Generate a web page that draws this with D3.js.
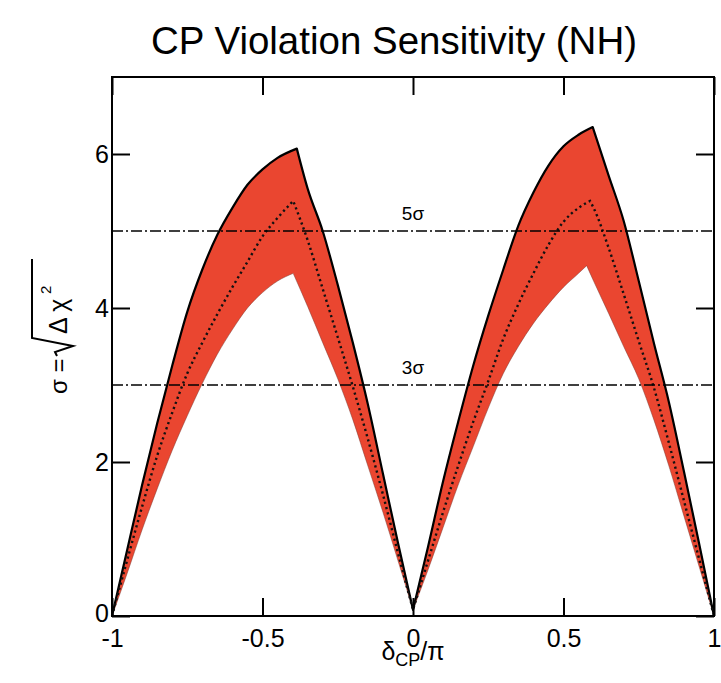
<!DOCTYPE html>
<html>
<head>
<meta charset="utf-8">
<script src="https://cdn.jsdelivr.net/npm/d3@7/dist/d3.min.js"></script>
<style>
  html, body { margin: 0; padding: 0; background: #fff; }
  svg { display: block; }
  text { font-family: "Liberation Sans", Arial, Helvetica, sans-serif; fill: #000; }
</style>
</head>
<body>
<svg id="chart" width="721" height="683"></svg>
<script>
// δCP/π versus sensitivity σ = sqrt(Δχ²): upper edge, central (dotted) and lower edge of the band
const upperBand = [
  [-1, 0], [-0.95, 0.85], [-0.9, 1.7], [-0.85, 2.5], [-0.8, 3.25], [-0.75, 3.95],
  [-0.7, 4.5], [-0.65, 4.95], [-0.6, 5.3], [-0.55, 5.6], [-0.5, 5.8], [-0.45, 5.95],
  [-0.386, 6.07], [-0.35, 5.55], [-0.3, 5.0], [-0.25, 4.3], [-0.2, 3.55], [-0.15, 2.75],
  [-0.1, 1.85], [-0.05, 0.95], [0, 0.08],
  [0.05, 0.9], [0.1, 1.75], [0.15, 2.52], [0.2, 3.25], [0.25, 3.9], [0.3, 4.5],
  [0.35, 5.07], [0.4, 5.5], [0.45, 5.85], [0.5, 6.1], [0.55, 6.25], [0.597, 6.35],
  [0.65, 5.72], [0.7, 5.13], [0.75, 4.35], [0.8, 3.55], [0.85, 2.78], [0.9, 1.88],
  [0.95, 0.95], [1, 0]
];
const centralBand = [
  [-1, 0], [-0.95, 0.72], [-0.9, 1.42], [-0.85, 2.08], [-0.8, 2.64], [-0.75, 3.15],
  [-0.7, 3.55], [-0.65, 3.92], [-0.6, 4.27], [-0.55, 4.6], [-0.5, 4.93], [-0.45, 5.17],
  [-0.398, 5.39], [-0.35, 4.88], [-0.3, 4.25], [-0.25, 3.62], [-0.2, 2.98], [-0.15, 2.3],
  [-0.1, 1.58], [-0.05, 0.82], [0, 0.08],
  [0.05, 0.72], [0.1, 1.35], [0.15, 1.95], [0.2, 2.52], [0.25, 3.05], [0.3, 3.6],
  [0.35, 4.05], [0.4, 4.45], [0.45, 4.82], [0.5, 5.12], [0.55, 5.3], [0.588, 5.39],
  [0.6, 5.3], [0.65, 4.78], [0.7, 4.18], [0.75, 3.57], [0.8, 2.97], [0.85, 2.25],
  [0.9, 1.5], [0.95, 0.75], [1, 0]
];
const lowerBand = [
  [-1, 0], [-0.95, 0.55], [-0.9, 1.12], [-0.85, 1.65], [-0.8, 2.15], [-0.75, 2.6],
  [-0.7, 3.02], [-0.65, 3.4], [-0.6, 3.72], [-0.55, 4.0], [-0.5, 4.2], [-0.45, 4.35],
  [-0.398, 4.45], [-0.35, 4.02], [-0.3, 3.55], [-0.25, 3.08], [-0.2, 2.55], [-0.15, 1.95],
  [-0.1, 1.35], [-0.05, 0.72], [0, 0.08],
  [0.05, 0.6], [0.1, 1.15], [0.15, 1.7], [0.2, 2.2], [0.25, 2.7], [0.3, 3.15],
  [0.35, 3.5], [0.4, 3.8], [0.45, 4.05], [0.5, 4.27], [0.55, 4.45], [0.577, 4.55],
  [0.6, 4.35], [0.65, 3.93], [0.7, 3.5], [0.75, 3.08], [0.8, 2.55], [0.85, 1.95],
  [0.9, 1.3], [0.95, 0.65], [1, 0]
];
const sigmaLevels = [3, 5];
const sigmaLabels = ["3σ", "5σ"];
const xTicks = [-1, -0.5, 0, 0.5, 1];
const xTickLabels = ["-1", "-0.5", "0", "0.5", "1"];
const yTicks = [0, 2, 4, 6];
const titleText = "CP Violation Sensitivity (NH)";

const svg = d3.select("#chart");
const margin = { left: 112, right: 7, top: 77, bottom: 67 };
const W = 721, H = 683;

const x = d3.scaleLinear().domain([-1, 1]).range([margin.left, W - margin.right]);
const y = d3.scaleLinear().domain([0, 7]).range([H - margin.bottom, margin.top]);

// split a curve at its cusps (local maxima / minima) so each piece is smoothed
// on its own while the peaks and the dip at 0 stay sharp
function splitAtCusps(pts) {
  const segs = [];
  let cur = [pts[0]];
  for (let i = 1; i < pts.length; i++) {
    cur.push(pts[i]);
    if (i < pts.length - 1) {
      const a = pts[i][1] - pts[i - 1][1];
      const b = pts[i + 1][1] - pts[i][1];
      if (a * b < 0) { segs.push(cur); cur = [pts[i]]; }
    }
  }
  segs.push(cur);
  return segs;
}

const smoothLine = d3.line().x(d => x(d[0])).y(d => y(d[1])).curve(d3.curveMonotoneX);
const smoothArea = d3.area().x(d => x(d[0])).y0(y(0)).y1(d => y(d[1])).curve(d3.curveMonotoneX);

function joinedLine(pts) {
  return splitAtCusps(pts).map((s, i) => {
    const d = smoothLine(s);
    return i === 0 ? d : d.replace(/^M/, "L");
  }).join("");
}
function joinedArea(pts) {
  return splitAtCusps(pts).map(s => smoothArea(s)).join("");
}

// band: area under the upper edge, with the area under the lower edge cleared
svg.append("path")
  .attr("d", joinedArea(upperBand))
  .attr("fill", "#ea4630");
svg.append("path")
  .attr("d", joinedArea(lowerBand))
  .attr("fill", "#fff");

// lower edge (soft dark rim)
svg.append("path")
  .attr("d", joinedLine(lowerBand))
  .attr("fill", "none")
  .attr("stroke", "#7a3a30")
  .attr("stroke-width", 0.9)
  .attr("stroke-opacity", 0.55);

// upper edge
svg.append("path")
  .attr("d", joinedLine(upperBand))
  .attr("fill", "none")
  .attr("stroke", "#000")
  .attr("stroke-width", 2.2)
  .attr("stroke-linejoin", "round");

// central curve, dotted
svg.append("path")
  .attr("d", joinedLine(centralBand))
  .attr("fill", "none")
  .attr("stroke", "#111")
  .attr("stroke-width", 2.4)
  .attr("stroke-dasharray", "2.2,3.2");

// 3σ / 5σ reference lines
sigmaLevels.forEach((lv, i) => {
  svg.append("line")
    .attr("x1", x(-1)).attr("x2", x(1))
    .attr("y1", y(lv)).attr("y2", y(lv))
    .attr("stroke", "#000")
    .attr("stroke-width", 1.6)
    .attr("stroke-dasharray", "11,3,2,3");
  svg.append("text")
    .attr("x", x(0)).attr("y", y(lv) - 11)
    .attr("text-anchor", "middle")
    .attr("font-size", 19)
    .text(sigmaLabels[i]);
});

// frame
svg.append("rect")
  .attr("x", x(-1)).attr("y", y(7))
  .attr("width", x(1) - x(-1)).attr("height", y(0) - y(7))
  .attr("fill", "none").attr("stroke", "#000").attr("stroke-width", 2);

// axes with inward ticks on all four sides
const tickLen = 18;
const xb = svg.append("g").attr("transform", `translate(0,${y(0)})`)
  .call(d3.axisBottom(x).tickValues(xTicks).tickSizeInner(-tickLen).tickSizeOuter(0)
    .tickPadding(8).tickFormat((d, i) => xTickLabels[i]));
const xt = svg.append("g").attr("transform", `translate(0,${y(7)})`)
  .call(d3.axisTop(x).tickValues(xTicks).tickSizeInner(-tickLen).tickSizeOuter(0).tickFormat(""));
const yl = svg.append("g").attr("transform", `translate(${x(-1)},0)`)
  .call(d3.axisLeft(y).tickValues(yTicks).tickSizeInner(-tickLen).tickSizeOuter(0)
    .tickPadding(3).tickFormat(d3.format("d")));
const yr = svg.append("g").attr("transform", `translate(${x(1)},0)`)
  .call(d3.axisRight(y).tickValues(yTicks).tickSizeInner(-tickLen).tickSizeOuter(0).tickFormat(""));
[xb, xt, yl, yr].forEach(g => {
  g.select(".domain").remove();
  g.selectAll(".tick line").attr("stroke", "#000").attr("stroke-width", 2);
  g.selectAll("text").attr("font-size", 25).attr("fill", "#000")
    .style("font-family", '"Liberation Sans", Arial, sans-serif');
});
xb.selectAll("text").attr("dy", "0.9em");
yl.selectAll("text").attr("dy", d => d === 0 ? "0.2em" : "0.35em");

// title (condensed to the plot's heading width)
svg.append("text")
  .attr("x", 394).attr("y", 54)
  .attr("text-anchor", "middle")
  .attr("font-size", 39)
  .attr("textLength", 486)
  .attr("lengthAdjust", "spacingAndGlyphs")
  .text(titleText);

// x-axis label: δ_CP / π
const xl = svg.append("text")
  .attr("x", x(0)).attr("y", 660)
  .attr("text-anchor", "middle")
  .attr("font-size", 25);
xl.append("tspan").text("δ");
xl.append("tspan").attr("font-size", 18).attr("dy", 6).text("CP");
xl.append("tspan").attr("dy", -6).text("/π");

// y-axis label: σ = sqrt(Δχ²), rotated
const ylab = svg.append("g").attr("transform", "translate(67,394) rotate(-90)");
ylab.append("text").attr("x", 0).attr("y", 0).attr("font-size", 24).text("σ =");
ylab.append("path")
  .attr("d", "M38,-10 L42,-12 L48,6 L56,-35 L135,-35")
  .attr("fill", "none").attr("stroke", "#000").attr("stroke-width", 2);
ylab.append("text").attr("x", 60).attr("y", 0).attr("font-size", 25).text("Δ χ");
ylab.append("text").attr("x", 100).attr("y", -16).attr("font-size", 15).text("2");
</script>
</body>
</html>
